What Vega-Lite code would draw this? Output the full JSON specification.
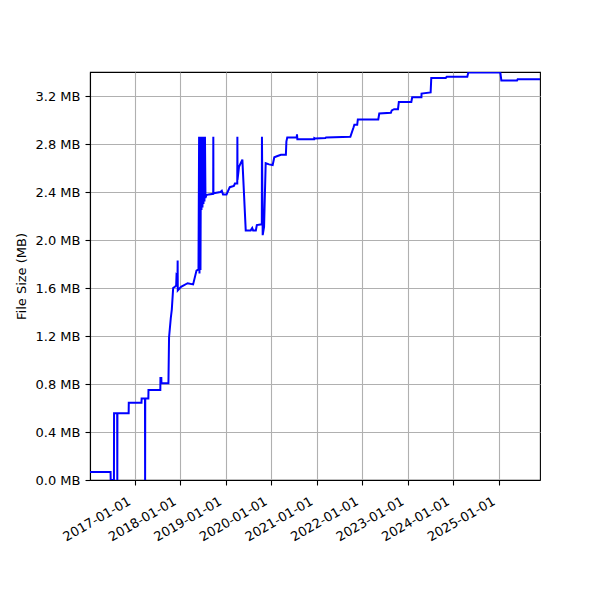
{
  "$schema": "https://vega.github.io/schema/vega-lite/v6.json",
  "width": 450,
  "height": 408,
  "autosize": {"type": "none"},
  "padding": {"left": 90, "top": 72, "right": 60, "bottom": 120},
  "background": "white",
  "data": {"values": [
    {"date": "2016-01-08", "size_mb": 0.067},
    {"date": "2016-06-21", "size_mb": 0.067},
    {"date": "2016-06-22", "size_mb": 0},
    {"date": "2016-07-18", "size_mb": 0},
    {"date": "2016-07-19", "size_mb": 0.556},
    {"date": "2016-08-13", "size_mb": 0.556},
    {"date": "2016-08-14", "size_mb": 0},
    {"date": "2016-08-15", "size_mb": 0.556},
    {"date": "2016-11-13", "size_mb": 0.556},
    {"date": "2016-11-14", "size_mb": 0.644},
    {"date": "2017-02-24", "size_mb": 0.644},
    {"date": "2017-02-25", "size_mb": 0.68},
    {"date": "2017-03-24", "size_mb": 0.68},
    {"date": "2017-03-25", "size_mb": 0},
    {"date": "2017-03-26", "size_mb": 0.68},
    {"date": "2017-04-20", "size_mb": 0.68},
    {"date": "2017-04-21", "size_mb": 0.75},
    {"date": "2017-07-25", "size_mb": 0.75},
    {"date": "2017-07-26", "size_mb": 0.85},
    {"date": "2017-08-02", "size_mb": 0.85},
    {"date": "2017-08-03", "size_mb": 0.806},
    {"date": "2017-09-28", "size_mb": 0.806},
    {"date": "2017-10-03", "size_mb": 1.19},
    {"date": "2017-10-17", "size_mb": 1.35},
    {"date": "2017-10-25", "size_mb": 1.42},
    {"date": "2017-11-05", "size_mb": 1.6},
    {"date": "2017-11-19", "size_mb": 1.61},
    {"date": "2017-11-29", "size_mb": 1.62},
    {"date": "2017-12-02", "size_mb": 1.71},
    {"date": "2017-12-10", "size_mb": 1.7},
    {"date": "2017-12-11", "size_mb": 1.83},
    {"date": "2017-12-12", "size_mb": 1.58},
    {"date": "2018-01-07", "size_mb": 1.61},
    {"date": "2018-03-01", "size_mb": 1.64},
    {"date": "2018-04-14", "size_mb": 1.63},
    {"date": "2018-05-11", "size_mb": 1.745},
    {"date": "2018-05-27", "size_mb": 1.755},
    {"date": "2018-06-01", "size_mb": 2.86},
    {"date": "2018-06-04", "size_mb": 1.72},
    {"date": "2018-06-08", "size_mb": 2.86},
    {"date": "2018-06-12", "size_mb": 1.75},
    {"date": "2018-06-16", "size_mb": 2.86},
    {"date": "2018-06-20", "size_mb": 2.25},
    {"date": "2018-06-24", "size_mb": 2.86},
    {"date": "2018-06-28", "size_mb": 2.27},
    {"date": "2018-07-02", "size_mb": 2.86},
    {"date": "2018-07-06", "size_mb": 2.3},
    {"date": "2018-07-10", "size_mb": 2.86},
    {"date": "2018-07-14", "size_mb": 2.32},
    {"date": "2018-07-18", "size_mb": 2.86},
    {"date": "2018-07-22", "size_mb": 2.35},
    {"date": "2018-07-30", "size_mb": 2.375},
    {"date": "2018-08-18", "size_mb": 2.38},
    {"date": "2018-09-22", "size_mb": 2.385},
    {"date": "2018-09-23", "size_mb": 2.86},
    {"date": "2018-09-24", "size_mb": 2.39},
    {"date": "2018-11-19", "size_mb": 2.4},
    {"date": "2018-11-30", "size_mb": 2.41},
    {"date": "2018-12-10", "size_mb": 2.38},
    {"date": "2019-01-07", "size_mb": 2.38},
    {"date": "2019-02-02", "size_mb": 2.44},
    {"date": "2019-03-07", "size_mb": 2.45},
    {"date": "2019-03-15", "size_mb": 2.47},
    {"date": "2019-04-03", "size_mb": 2.47},
    {"date": "2019-04-04", "size_mb": 2.86},
    {"date": "2019-04-05", "size_mb": 2.5},
    {"date": "2019-04-17", "size_mb": 2.61},
    {"date": "2019-05-14", "size_mb": 2.67},
    {"date": "2019-06-10", "size_mb": 2.08},
    {"date": "2019-07-20", "size_mb": 2.08},
    {"date": "2019-08-01", "size_mb": 2.1},
    {"date": "2019-08-08", "size_mb": 2.08},
    {"date": "2019-08-30", "size_mb": 2.08},
    {"date": "2019-09-07", "size_mb": 2.125},
    {"date": "2019-10-05", "size_mb": 2.13},
    {"date": "2019-10-17", "size_mb": 2.13},
    {"date": "2019-10-18", "size_mb": 2.86},
    {"date": "2019-10-24", "size_mb": 2.04},
    {"date": "2019-11-04", "size_mb": 2.11},
    {"date": "2019-11-17", "size_mb": 2.64},
    {"date": "2019-12-14", "size_mb": 2.63},
    {"date": "2020-01-12", "size_mb": 2.625},
    {"date": "2020-01-25", "size_mb": 2.69},
    {"date": "2020-02-20", "size_mb": 2.7},
    {"date": "2020-03-18", "size_mb": 2.71},
    {"date": "2020-04-27", "size_mb": 2.71},
    {"date": "2020-05-01", "size_mb": 2.82},
    {"date": "2020-05-08", "size_mb": 2.855},
    {"date": "2020-07-23", "size_mb": 2.855},
    {"date": "2020-07-25", "size_mb": 2.88},
    {"date": "2020-07-28", "size_mb": 2.84},
    {"date": "2020-12-10", "size_mb": 2.84},
    {"date": "2020-12-11", "size_mb": 2.85},
    {"date": "2020-12-20", "size_mb": 2.845},
    {"date": "2021-03-10", "size_mb": 2.85},
    {"date": "2021-03-15", "size_mb": 2.855},
    {"date": "2021-09-26", "size_mb": 2.86},
    {"date": "2021-10-22", "size_mb": 2.94},
    {"date": "2021-10-28", "size_mb": 2.96},
    {"date": "2021-11-20", "size_mb": 2.96},
    {"date": "2021-11-25", "size_mb": 3.005},
    {"date": "2022-05-08", "size_mb": 3.005},
    {"date": "2022-05-16", "size_mb": 3.055},
    {"date": "2022-08-17", "size_mb": 3.06},
    {"date": "2022-08-24", "size_mb": 3.08},
    {"date": "2022-09-12", "size_mb": 3.09},
    {"date": "2022-10-13", "size_mb": 3.09},
    {"date": "2022-10-20", "size_mb": 3.15},
    {"date": "2023-01-28", "size_mb": 3.15},
    {"date": "2023-02-04", "size_mb": 3.19},
    {"date": "2023-04-19", "size_mb": 3.19},
    {"date": "2023-04-20", "size_mb": 3.22},
    {"date": "2023-07-02", "size_mb": 3.23},
    {"date": "2023-07-07", "size_mb": 3.35},
    {"date": "2023-10-31", "size_mb": 3.35},
    {"date": "2023-11-08", "size_mb": 3.36},
    {"date": "2024-04-21", "size_mb": 3.36},
    {"date": "2024-04-29", "size_mb": 3.395},
    {"date": "2025-01-11", "size_mb": 3.395},
    {"date": "2025-01-19", "size_mb": 3.33},
    {"date": "2025-05-25", "size_mb": 3.33},
    {"date": "2025-05-30", "size_mb": 3.34},
    {"date": "2025-11-25", "size_mb": 3.34}
  ]},
  "mark": {"type": "line", "color": "#0000ff", "strokeWidth": 2, "clip": true},
  "encoding": {
    "x": {
      "field": "date",
      "type": "temporal",
      "scale": {"domain": [{"year": 2016, "month": 1, "date": 8}, {"year": 2025, "month": 11, "date": 25}]},
      "axis": {
        "title": null,
        "values": [
          {"year": 2017, "month": 1, "date": 1},
          {"year": 2018, "month": 1, "date": 1},
          {"year": 2019, "month": 1, "date": 1},
          {"year": 2020, "month": 1, "date": 1},
          {"year": 2021, "month": 1, "date": 1},
          {"year": 2022, "month": 1, "date": 1},
          {"year": 2023, "month": 1, "date": 1},
          {"year": 2024, "month": 1, "date": 1},
          {"year": 2025, "month": 1, "date": 1}
        ],
        "format": "%Y-%m-%d",
        "labelAngle": -30,
        "labelAlign": "right",
        "labelBaseline": "bottom",
        "labelPadding": 21,
        "labelOffset": -2,
        "labelOverlap": false,
        "labelFlush": false
      }
    },
    "y": {
      "field": "size_mb",
      "type": "quantitative",
      "scale": {"domain": [0, 3.4], "nice": false, "zero": true},
      "axis": {
        "title": "File Size (MB)",
        "values": [0, 0.4, 0.8, 1.2, 1.6, 2.0, 2.4, 2.8, 3.2],
        "labelExpr": "format(datum.value, '.1f') + ' MB'",
        "labelPadding": 5,
        "titlePadding": 7,
        "labelFlush": false
      }
    }
  },
  "config": {
    "view": {"stroke": "black", "strokeWidth": 1.1},
    "axis": {
      "grid": true,
      "gridColor": "#b0b0b0",
      "gridWidth": 1.1,
      "domainColor": "black",
      "domainWidth": 1.1,
      "tickColor": "black",
      "tickWidth": 1.1,
      "tickSize": 5,
      "labelColor": "black",
      "labelFont": "DejaVu Sans",
      "labelFontSize": 13,
      "titleFont": "DejaVu Sans",
      "titleFontSize": 13,
      "titleFontWeight": "normal",
      "titleColor": "black"
    }
  }
}
